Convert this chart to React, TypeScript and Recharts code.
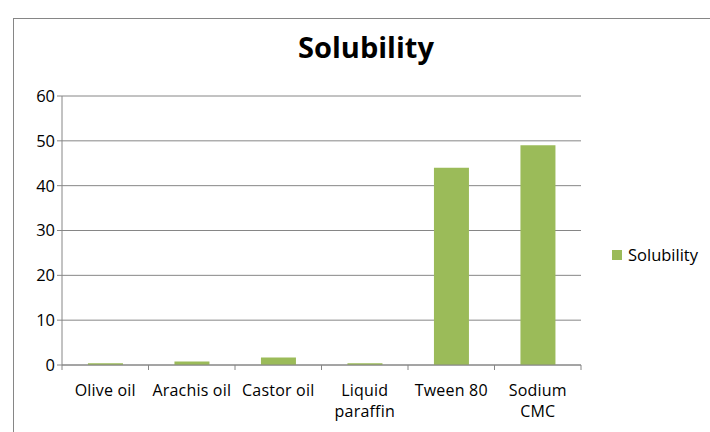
import { Bar, BarChart, CartesianGrid, XAxis, YAxis } from 'recharts'

const categories = ['Olive oil', 'Arachis oil', 'Castor oil', 'Liquid\nparaffin', 'Tween 80', 'Sodium\nCMC']
const solubility = [0.4, 0.8, 1.7, 0.4, 44, 49]
const yTicks = [0, 10, 20, 30, 40, 50, 60]
const seriesName = 'Solubility'

const data = categories.map((name, i) => ({ name, [seriesName]: solubility[i] }))

const FONT = '"Open Sans", "Liberation Sans", Arial, sans-serif'
const AXIS = '#868686'
const BAR = '#9BBB59'

const PLOT_LEFT = 62
const PLOT_RIGHT = 581
const BAND = (PLOT_RIGHT - PLOT_LEFT) / categories.length

function CategoryTick({ x, y, payload, index }: { x?: number; y?: number; payload?: { value: string }; index?: number }) {
  const lines = String(payload?.value ?? '').split('\n')
  const cx = x ?? 0
  const cy = y ?? 0
  return (
    <g>
      <line x1={cx - BAND / 2} y1={cy - 8} x2={cx - BAND / 2} y2={cy - 3} stroke={AXIS} />
      {index === categories.length - 1 && (
        <line x1={cx + BAND / 2} y1={cy - 8} x2={cx + BAND / 2} y2={cy - 3} stroke={AXIS} />
      )}
      {lines.map((l, i) => (
        <text
          key={i}
          x={cx}
          y={cy + 23 + i * 21}
          textAnchor="middle"
          fill="#000"
          fontSize={16}
          fontFamily={FONT}
          letterSpacing={0.2}
        >
          {l}
        </text>
      ))}
    </g>
  )
}

export default function App() {
  return (
    <div style={{ position: 'absolute', left: 0, top: 0, width: 710, height: 432, background: '#fff', overflow: 'hidden' }}>
      <div
        style={{
          position: 'absolute',
          left: 13,
          top: 18,
          width: 720,
          height: 440,
          border: '1.5px solid #868686',
          boxSizing: 'border-box',
        }}
      />
      <div
        style={{
          position: 'absolute',
          left: 0,
          top: 27,
          width: 732,
          textAlign: 'center',
          fontFamily: FONT,
          fontWeight: 'bold',
          fontSize: 29,
          color: '#000',
        }}
      >
        Solubility
      </div>
      <div
        style={{
          position: 'absolute',
          left: 612,
          top: 243,
          display: 'flex',
          alignItems: 'center',
          fontFamily: FONT,
          fontSize: 16.5,
          color: '#000',
        }}
      >
        <span style={{ display: 'inline-block', width: 10, height: 10, background: BAR, marginRight: 6 }} />
        {seriesName}
      </div>
      <BarChart
        width={710}
        height={432}
        data={data}
        margin={{ top: 96, right: 710 - PLOT_RIGHT, left: PLOT_LEFT - 50, bottom: 7 }}
        barCategoryGap="30%"
        style={{ position: 'absolute', left: 0, top: 0 }}
      >
        <CartesianGrid stroke={AXIS} vertical={false} />
        <XAxis
          dataKey="name"
          interval={0}
          height={60}
          axisLine={{ stroke: AXIS }}
          tickLine={false}
          tick={<CategoryTick />}
        />
        <YAxis
          domain={[0, 60]}
          ticks={yTicks}
          width={50}
          axisLine={{ stroke: AXIS }}
          tickLine={{ stroke: AXIS }}
          tickSize={5}
          tick={{ fill: '#000', fontSize: 16.5, fontFamily: FONT }}
        />
        <Bar dataKey={seriesName} fill={BAR} isAnimationActive={false} />
      </BarChart>
    </div>
  )
}
